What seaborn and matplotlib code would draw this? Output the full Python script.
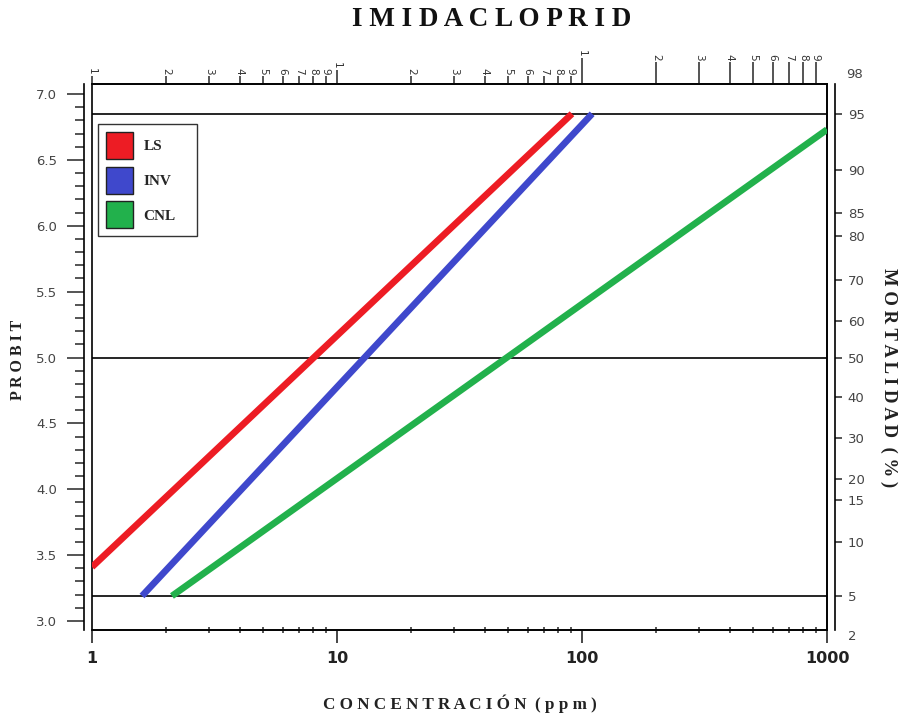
import numpy as np
import pandas as pd
import matplotlib
matplotlib.use("Agg")
import matplotlib.pyplot as plt
import seaborn as sns
from matplotlib.patches import Patch
from matplotlib.ticker import FixedLocator, NullLocator, MultipleLocator, LogLocator, NullFormatter

# ---------------- data ----------------
series = ["LS", "INV", "CNL"]
ls_conc, ls_probit = [1.0, 91.0], [3.41, 6.85]
inv_conc, inv_probit = [1.6, 110.0], [3.19, 6.85]
cnl_conc, cnl_probit = [2.12, 1000.0], [3.19, 6.73]
colors = ["#ED1C24", "#3F48CC", "#22B14C"]

ref_levels = [3.19, 5.0, 6.85]           # 5 %, 50 %, 95 % reference lines
left_ticks = [3.0, 3.5, 4.0, 4.5, 5.0, 5.5, 6.0, 6.5, 7.0]
mort_labels = ["5", "10", "15", "20", "30", "40", "50", "60", "70", "80", "85", "90", "95"]
mort_pos = [3.19, 3.60, 3.92, 4.08, 4.39, 4.70, 5.00, 5.28, 5.59, 5.92, 6.10, 6.42, 6.85]
bottom_ticks = [1, 10, 100, 1000]
bottom_labels = ["1", "10", "100", "1000"]
top_short = [1, 2, 3, 4, 5, 6, 7, 8, 9, 20, 30, 40, 50, 60, 70, 80, 90]
top_short_lab = ["1", "2", "3", "4", "5", "6", "7", "8", "9", "2", "3", "4", "5", "6", "7", "8", "9"]
top_long = [200, 300, 400, 500, 600, 700, 800, 900]
top_long_lab = ["2", "3", "4", "5", "6", "7", "8", "9"]

df = pd.DataFrame({
    "serie": ["LS"] * 2 + ["INV"] * 2 + ["CNL"] * 2,
    "conc": ls_conc + inv_conc + cnl_conc,
    "probit": ls_probit + inv_probit + cnl_probit,
})

# ---------------- figure ----------------
sns.set_style("white")
plt.rcParams["font.family"] = ["DejaVu Sans"]
fig = plt.figure(figsize=(9.03, 7.22), dpi=100)
ax = fig.add_axes([92 / 903, 1 - 630 / 722, (827 - 92) / 903, (630 - 84) / 722])
ax.set_xscale("log")
ax.set_xlim(1, 1000)
ax.set_ylim(2.9317, 7.0759)

for lv in ref_levels:
    ax.axhline(lv, color="black", lw=1.2, zorder=1)

sns.lineplot(data=df, x="conc", y="probit", hue="serie", hue_order=series,
             palette=colors, linewidth=4.8, legend=False, ax=ax,
             estimator=None, sort=True, solid_capstyle="butt", zorder=3)
ax.set_xlabel("")
ax.set_ylabel("")

# frame
ax.patch.set_edgecolor("black")
ax.patch.set_linewidth(1.2)
for s in ["top", "bottom", "right"]:
    ax.spines[s].set_visible(True)
    ax.spines[s].set_color("black")
    ax.spines[s].set_linewidth(1.2)
ax.spines["left"].set_position(("outward", 6))
ax.spines["left"].set_color("black")
ax.spines["left"].set_linewidth(1.2)

# left axis ticks
ax.yaxis.set_major_locator(FixedLocator(left_ticks))
ax.set_yticklabels([f"{v:.1f}" for v in left_ticks])
ax.yaxis.set_minor_locator(MultipleLocator(0.1))
ax.tick_params(axis="y", which="major", direction="out", length=12, width=1.1,
               pad=7, labelsize=9.5, labelcolor="#444444", left=True, right=False)
ax.tick_params(axis="y", which="minor", direction="out", length=6.5, width=1.1,
               left=True, right=False)

# bottom axis ticks
ax.xaxis.set_major_locator(FixedLocator(bottom_ticks))
ax.set_xticklabels(bottom_labels)
ax.xaxis.set_minor_locator(LogLocator(base=10, subs=np.arange(2, 10)))
ax.xaxis.set_minor_formatter(NullFormatter())
ax.tick_params(axis="x", which="major", direction="out", length=9, width=1.2,
               pad=6, labelsize=11.5, bottom=True, top=False)
ax.tick_params(axis="x", which="minor", direction="inout", length=4, width=1.1,
               bottom=True, top=False)
for t in ax.get_xticklabels():
    t.set_fontweight("bold")
    t.set_color("#222222")

# top axes (rotated digit labels)
def top_axis(ticks, labels, length):
    sec = ax.secondary_xaxis("top")
    sec.set_xticks(ticks, labels=labels)
    sec.xaxis.set_minor_locator(NullLocator())
    sec.tick_params(axis="x", which="major", direction="out", length=length,
                    width=1.1, pad=1, labelsize=7.5, labelcolor="#333333",
                    labelrotation=-90)
    sec.spines["top"].set_linewidth(1.2)
    return sec

top_axis(top_short, top_short_lab, 5.5)
top_axis([10], ["1"], 10)
top_axis([100], ["1"], 19)
top_axis(top_long, top_long_lab, 16)

# right axis (mortality %)
ax2 = ax.twinx()
ax2.set_ylim(ax.get_ylim())
for s in ["top", "bottom", "left"]:
    ax2.spines[s].set_visible(False)
ax2.spines["right"].set_position(("outward", 6))
ax2.spines["right"].set_color("black")
ax2.spines["right"].set_linewidth(1.2)
ax2.yaxis.set_major_locator(FixedLocator(mort_pos))
ax2.set_yticklabels(mort_labels)
ax2.yaxis.set_minor_locator(NullLocator())
ax2.tick_params(axis="y", which="major", direction="out", length=5, width=1.1,
                pad=4, labelsize=9.5, labelcolor="#444444", right=True, left=False)
ax2.annotate("98", xy=(1, 1), xycoords="axes fraction", xytext=(14, 6.5),
             textcoords="offset points", ha="left", va="center", fontsize=9.5, color="#444444")
ax2.annotate("2", xy=(1, 0), xycoords="axes fraction", xytext=(15, -4.5),
             textcoords="offset points", ha="left", va="center", fontsize=9.5, color="#444444")

# legend
handles = [Patch(facecolor=c, edgecolor="#222222", linewidth=1.0) for c in colors]
leg_top = 1 - 40 / 546
leg = ax.legend(handles, series, loc="upper left",
                bbox_to_anchor=(6 / 735, leg_top - 0.2, 99 / 735, 0.2), mode="expand",
                borderaxespad=0, frameon=True, fancybox=False, edgecolor="black",
                handlelength=1.77, handleheight=2.34, labelspacing=0.52, handletextpad=0.72,
                borderpad=0.5, prop={"family": "Liberation Serif", "weight": "bold", "size": 11})
leg.get_frame().set_linewidth(1.0)
leg.set_zorder(5)

# titles
serif = {"family": "Liberation Serif", "weight": "bold"}
fig.text(492 / 903, 1 - 19 / 722, "I M I D A C L O P R I D", ha="center", va="center",
         fontsize=19.5, color="#111111", **serif)
fig.text(18 / 903, 1 - 360 / 722, "P R O B I T", ha="center", va="center",
         rotation=90, fontsize=11.5, color="#222222", **serif)
fig.text(889 / 903, 1 - 378 / 722, "M O R T A L I D A D  ( % )", ha="center", va="center",
         rotation=-90, fontsize=13.5, color="#222222", **serif)
fig.text(460 / 903, 1 - 704 / 722, "C O N C E N T R A C I Ó N  ( p p m )", ha="center",
         va="center", fontsize=12.3, color="#222222", **serif)

fig.savefig("out.png", dpi=100)
